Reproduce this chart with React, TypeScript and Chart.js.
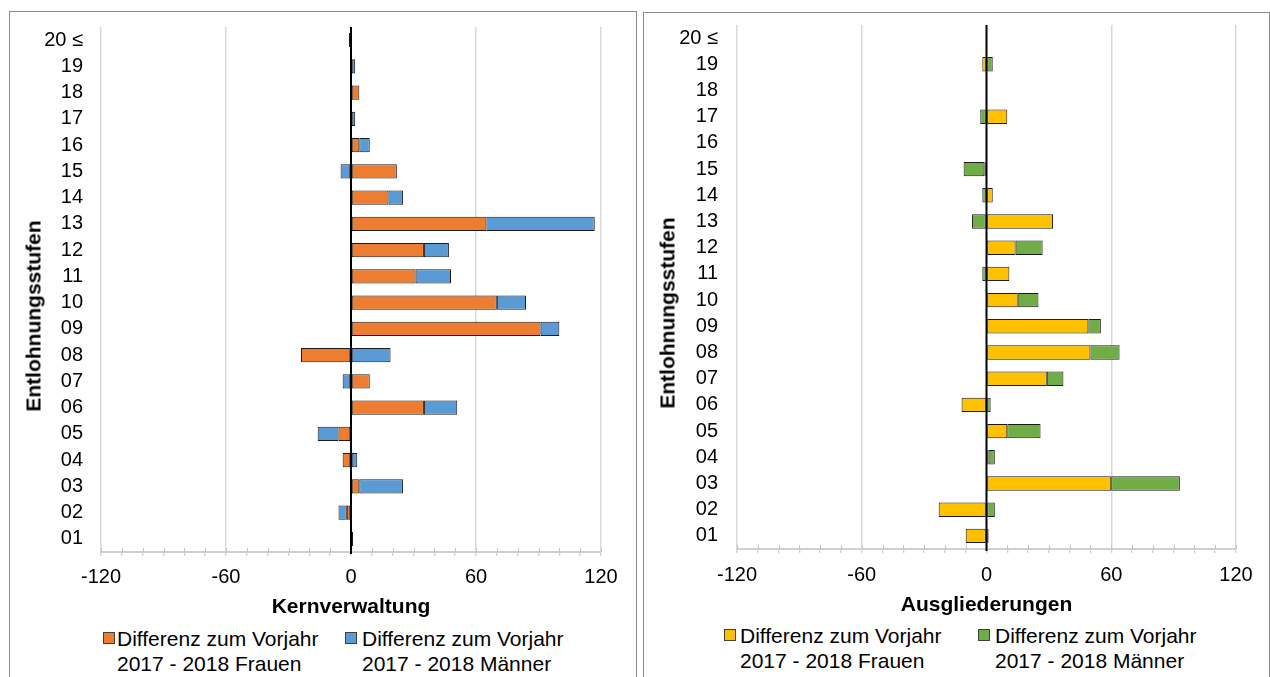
import React, { useEffect, useRef } from 'react';
import { Chart, registerables } from 'chart.js';

Chart.register(...registerables);

// Entlohnungsstufen, top to bottom
const STUFEN = ['20 ≤', '19', '18', '17', '16', '15', '14', '13', '12', '11', '10', '09', '08', '07', '06', '05', '04', '03', '02', '01'];

// Labelled x-axis values (minor marks every 10)
const X_TICKS = [-120, -60, 0, 60, 120];

// Kernverwaltung: Differenz zum Vorjahr 2017 - 2018
const KERN_FRAUEN = [null, null, 4, null, 4, 22, 18, 65, 35, 31, 70, 91, -24, 9, 35, -6, -4, 4, -2, 1];
const KERN_MAENNER = [-1, 2, null, 2, 5, -5, 7, 52, 12, 17, 14, 9, 19, -4, 16, -10, 3, 21, -4, null];

// Ausgliederungen: Differenz zum Vorjahr 2017 - 2018
const AUSG_FRAUEN = [null, -2, null, 10, null, -1, 3, 32, 14, 11, 15, 49, 50, 29, -12, 10, 1, 60, -23, -10];
const AUSG_MAENNER = [null, 3, null, -3, null, -10, -2, -7, 13, -2, 10, 6, 14, 8, 2, 16, 3, 33, 4, 1];

const LEGEND_FRAUEN = ['Differenz zum Vorjahr', '2017 - 2018 Frauen'];
const LEGEND_MAENNER = ['Differenz zum Vorjahr', '2017 - 2018 Männer'];

const FONT = "'Liberation Sans', Arial, sans-serif";
Chart.defaults.font.family = FONT;

// Minor tick marks above the axis line and the black zero line over the bars
const axisMarks = {
  id: 'axisMarks',
  beforeDatasetsDraw(chart: any) {
    const { ctx, chartArea, scales } = chart;
    const x = scales.x;
    ctx.save();
    ctx.strokeStyle = '#c4c4c4';
    ctx.lineWidth = 1;
    x.ticks.forEach((t: any) => {
      const px = Math.round(x.getPixelForValue(t.value)) + 0.5;
      ctx.beginPath();
      ctx.moveTo(px, chartArea.bottom - 4);
      ctx.lineTo(px, chartArea.bottom);
      ctx.stroke();
    });
    ctx.restore();
  },
  afterDatasetsDraw(chart: any) {
    const { ctx, chartArea, scales } = chart;
    const x0 = scales.x.getPixelForValue(0);
    ctx.save();
    ctx.strokeStyle = '#000';
    ctx.lineWidth = 2;
    ctx.beginPath();
    ctx.moveTo(x0, chartArea.top);
    ctx.lineTo(x0, chartArea.bottom + 2);
    ctx.stroke();
    ctx.restore();
  },
};

type PanelCfg = {
  title: string;
  frauen: (number | null)[];
  maenner: (number | null)[];
  colors: [string, string];
  panel: { left: number; top: number; width: number };
  canvas: { left: number; top: number; width: number; height: number };
  yWidth: number;
  padTop: number;
  padRight: number;
  xHeight: number;
  xTickPad: number;
  yTickPad: number;
  yTitle: { x: number; y: number };
  legendY: number;
  legendBoxX: [number, number];
  legendTextX: [number, number];
};

function clearScalePadding(s: any) {
  s.paddingTop = 0;
  s.paddingBottom = 0;
  s.paddingLeft = 0;
  s.paddingRight = 0;
}

function buildChart(canvas: HTMLCanvasElement, p: PanelCfg) {
  const ds = (label: string, data: (number | null)[], color: string) => ({
    label,
    data,
    backgroundColor: color,
    borderColor: '#1a1a1a',
    borderWidth: 1,
    borderSkipped: false,
    barPercentage: 0.55,
    categoryPercentage: 1,
  });
  return new Chart(canvas, {
    type: 'bar',
    data: {
      labels: STUFEN,
      datasets: [
        ds(LEGEND_FRAUEN.join(' '), p.frauen, p.colors[0]),
        ds(LEGEND_MAENNER.join(' '), p.maenner, p.colors[1]),
      ],
    },
    options: {
      indexAxis: 'y',
      responsive: false,
      animation: false,
      layout: { padding: { top: p.padTop, right: p.padRight, left: 0, bottom: 0 } },
      plugins: { legend: { display: false }, tooltip: { enabled: false } },
      scales: {
        x: {
          type: 'linear',
          stacked: true,
          min: -120,
          max: 120,
          afterFit: (s: any) => {
            s.height = p.xHeight;
            clearScalePadding(s);
          },
          ticks: {
            stepSize: 10,
            autoSkip: false,
            maxRotation: 0,
            minRotation: 0,
            padding: p.xTickPad,
            color: '#000',
            font: { size: 20 },
            callback: (v: any) => (X_TICKS.includes(Number(v)) ? String(v) : ''),
          },
          grid: {
            color: (c: any) =>
              c.tick && c.tick.value !== 0 && X_TICKS.includes(c.tick.value) ? '#d9d9d9' : 'rgba(0,0,0,0)',
            lineWidth: 1.5,
            drawTicks: true,
            tickLength: 4,
            tickColor: '#c4c4c4',
            tickWidth: 1,
          },
          border: { display: true, color: '#d0d0d0', width: 2 },
          title: {
            display: true,
            text: p.title,
            color: '#000',
            font: { size: 21, weight: 'bold' },
            padding: { top: 0, bottom: 0 },
          },
        },
        y: {
          type: 'category',
          stacked: true,
          afterFit: (s: any) => {
            s.width = p.yWidth;
            clearScalePadding(s);
          },
          grid: { display: false, drawTicks: false },
          border: { display: false },
          ticks: { autoSkip: false, padding: p.yTickPad, color: '#000', font: { size: 20 } },
        },
      },
    } as any,
    plugins: [axisMarks],
  });
}

function LegendItem({ boxX, textX, y, color, lines }: { boxX: number; textX: number; y: number; color: string; lines: string[] }) {
  return (
    <>
      <div
        style={{
          position: 'absolute',
          left: boxX,
          top: y - 6,
          width: 12,
          height: 12,
          boxSizing: 'border-box',
          background: color,
          border: '1px solid #404040',
        }}
      />
      <div
        style={{
          position: 'absolute',
          left: textX,
          top: y - 12.5,
          fontFamily: FONT,
          fontSize: 21,
          lineHeight: '25px',
          color: '#000',
          whiteSpace: 'nowrap',
        }}
      >
        {lines.map((l, i) => (
          <div key={i}>{l}</div>
        ))}
      </div>
    </>
  );
}

function Panel({ cfg }: { cfg: PanelCfg }) {
  const ref = useRef<HTMLCanvasElement>(null);
  useEffect(() => {
    const chart = buildChart(ref.current as HTMLCanvasElement, cfg);
    return () => chart.destroy();
  }, []);
  return (
    <>
      <div
        style={{
          position: 'absolute',
          left: cfg.panel.left,
          top: cfg.panel.top,
          width: cfg.panel.width,
          height: 720,
          boxSizing: 'border-box',
          border: '1px solid #8c8c8c',
        }}
      />
      <canvas
        ref={ref}
        width={cfg.canvas.width}
        height={cfg.canvas.height}
        style={{
          position: 'absolute',
          left: cfg.canvas.left,
          top: cfg.canvas.top,
          width: cfg.canvas.width,
          height: cfg.canvas.height,
          display: 'block',
        }}
      />
      <div
        style={{
          position: 'absolute',
          left: cfg.yTitle.x,
          top: cfg.yTitle.y,
          transform: 'translate(-50%, -50%) rotate(-90deg)',
          fontFamily: FONT,
          fontWeight: 'bold',
          fontSize: 21,
          lineHeight: '25px',
          whiteSpace: 'nowrap',
          color: '#000',
        }}
      >
        Entlohnungsstufen
      </div>
      <LegendItem boxX={cfg.legendBoxX[0]} textX={cfg.legendTextX[0]} y={cfg.legendY} color={cfg.colors[0]} lines={LEGEND_FRAUEN} />
      <LegendItem boxX={cfg.legendBoxX[1]} textX={cfg.legendTextX[1]} y={cfg.legendY} color={cfg.colors[1]} lines={LEGEND_MAENNER} />
    </>
  );
}

const LEFT: PanelCfg = {
  title: 'Kernverwaltung',
  frauen: KERN_FRAUEN,
  maenner: KERN_MAENNER,
  colors: ['#ED7D31', '#5B9BD5'],
  panel: { left: 9, top: 11, width: 628 },
  canvas: { left: 10, top: 12, width: 626, height: 608 },
  yWidth: 91,
  padTop: 15,
  padRight: 35,
  xHeight: 68,
  xTickPad: 9,
  yTickPad: 18,
  yTitle: { x: 33, y: 316 },
  legendY: 638,
  legendBoxX: [103, 345],
  legendTextX: [117, 362],
};

const RIGHT: PanelCfg = {
  title: 'Ausgliederungen',
  frauen: AUSG_FRAUEN,
  maenner: AUSG_MAENNER,
  colors: ['#FFC000', '#70AD47'],
  panel: { left: 643, top: 12, width: 627 },
  canvas: { left: 644, top: 12, width: 624, height: 606 },
  yWidth: 93,
  padTop: 13,
  padRight: 32,
  xHeight: 69,
  xTickPad: 10,
  yTickPad: 19,
  yTitle: { x: 667, y: 313 },
  legendY: 635,
  legendBoxX: [724, 978],
  legendTextX: [740, 995],
};

export default function App() {
  useEffect(() => {
    document.body.style.overflow = 'hidden';
  }, []);
  return (
    <div
      style={{
        position: 'fixed',
        left: 0,
        top: 0,
        width: 1270,
        height: 677,
        overflow: 'hidden',
        background: '#fff',
      }}
    >
      <Panel cfg={LEFT} />
      <Panel cfg={RIGHT} />
    </div>
  );
}
